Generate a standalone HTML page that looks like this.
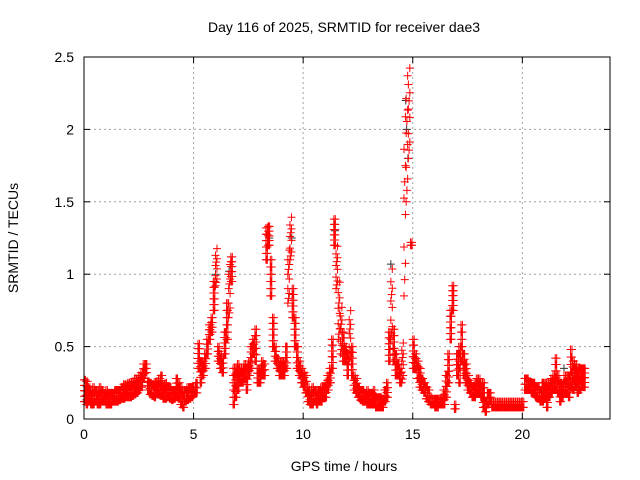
<!DOCTYPE html>
<html><head><meta charset="utf-8"><style>
body{margin:0;background:#fff}
svg{display:block;font-family:"Liberation Sans",sans-serif}
</style></head><body>
<svg width="640" height="480">
<rect width="640" height="480" fill="#fff"/>
<g id="grid"></g>
<g id="marks"></g>
<g id="axes"></g>
<text x="344" y="32" text-anchor="middle" font-size="14">Day 116 of 2025, SRMTID for receiver dae3</text>
<text x="344" y="471" text-anchor="middle" font-size="14">GPS time / hours</text>
<text transform="translate(18,238) rotate(-90)" text-anchor="middle" font-size="14">SRMTID / TECUs</text>
</svg>
<script>
const xTicks=[0,5,10,15,20];
const yTicks=[0,0.5,1,1.5,2,2.5];
const yTickLabels=["0","0.5","1","1.5","2","2.5"];
const startHour=0, stepHour=0.1;
const lo=[.12,.1,.12,.1,.1,.12,.1,.1,.12,.12,
.1,.1,.1,.12,.12,.12,.13,.14,.14,.15,
.15,.15,.16,.17,.18,.2,.22,.28,.32,.2,
.17,.16,.15,.17,.17,.16,.14,.14,.15,.14,
.13,.14,.15,.14,.1,.08,.12,.13,.14,.15,
.18,.18,.35,.25,.3,.35,.45,.55,.6,.75,
.92,.4,.35,.32,.45,.55,.7,.95,.1,.15,
.2,.25,.25,.28,.2,.3,.35,.45,.4,.25,
.25,.3,.3,1.1,1.2,.85,.5,.4,.35,.3,
.3,.3,.35,.8,1.1,.7,.5,.35,.3,.25,
.22,.18,.12,.1,.1,.12,.1,.12,.12,.15,
.15,.2,.25,.35,1.2,.9,.55,.45,.4,.4,
.3,.4,.3,.2,.18,.15,.13,.12,.12,.1,
.1,.1,.1,.08,.08,.08,.08,.12,.15,.4,
.55,.4,.3,.3,.25,.25,.85,1.5,1.8,1.2,
.35,.35,.28,.22,.2,.18,.14,.12,.1,.1,
.08,.08,.1,.1,.1,.15,.25,.55,.75,.07,
.3,.25,.4,.3,.25,.2,.18,.15,.15,.18,
.18,.15,.08,.05,.1,.12,.08,.08,.08,.08,
.08,.08,.08,.08,.08,.08,.08,.08,.08,.08,
.08,.2,.2,.2,.18,.18,.15,.14,.12,.12,
.15,.08,.15,.18,.2,.2,.18,.12,.15,.18,
.18,.15,.22,.2,.22,.18,.2,.22,.22];
const hi=[.27,.26,.22,.2,.22,.2,.2,.22,.2,.18,
.2,.18,.18,.18,.2,.2,.2,.22,.24,.24,
.25,.25,.26,.28,.28,.3,.32,.38,.38,.26,
.25,.24,.25,.26,.28,.3,.24,.25,.22,.22,
.2,.2,.28,.25,.22,.2,.2,.22,.22,.22,
.22,.25,.52,.4,.4,.45,.55,.65,.7,.95,
1.2,.5,.45,.42,.6,.8,1.1,1.12,.35,.35,
.38,.35,.35,.38,.35,.4,.5,.55,.62,.35,
.35,.4,.38,1.32,1.33,1.1,.7,.5,.42,.4,
.4,.4,.5,1.2,1.42,.9,.7,.5,.4,.35,
.32,.3,.22,.2,.22,.2,.2,.2,.22,.22,
.25,.3,.35,.55,1.38,1.22,.98,.8,.6,.5,
.45,.78,.5,.3,.28,.22,.2,.2,.18,.2,
.18,.18,.2,.15,.15,.15,.14,.2,.25,.6,
1.08,.62,.45,.38,.35,.55,2.2,2.45,2.48,1.22,
.55,.45,.4,.35,.28,.25,.22,.2,.15,.14,
.14,.14,.14,.15,.2,.3,.45,.75,.92,.1,
.45,.5,.65,.45,.38,.3,.25,.22,.25,.28,
.28,.25,.25,.12,.18,.18,.12,.12,.12,.12,
.12,.12,.12,.12,.12,.12,.12,.12,.12,.12,
.12,.28,.28,.26,.25,.25,.22,.22,.2,.25,
.25,.25,.25,.28,.3,.42,.3,.25,.25,.3,
.3,.3,.48,.4,.38,.35,.35,.35,.35];
const blackT=[6.0,6.62,8.45,9.48,11.45,14.0,14.68,14.78,14.72,17.35,21.9];
const blackV=[1.0,1.02,1.25,1.25,1.3,1.07,2.2,1.8,2.0,0.45,0.35];

const L=84,R=610,T=57,B=419;
const xs=h=>L+h/24*(R-L), ys=v=>B-v/2.5*(B-T);
const NS="http://www.w3.org/2000/svg";
function mk(tag,attrs,parent){const e=document.createElementNS(NS,tag);for(const k in attrs)e.setAttribute(k,attrs[k]);parent.appendChild(e);return e;}
const grid=document.getElementById('grid'),axes=document.getElementById('axes'),marks=document.getElementById('marks');
xTicks.forEach((t,i)=>{
  if(t>0){const g=mk('line',{x1:xs(t),x2:xs(t),y1:T,y2:B,stroke:'#a0a0a0','stroke-dasharray':'2,3'},grid);
  
  }
  mk('line',{x1:xs(t),x2:xs(t),y1:B,y2:B-6,stroke:'#000'},axes);
  mk('line',{x1:xs(t),x2:xs(t),y1:T,y2:T+6,stroke:'#000'},axes);
  const tx=mk('text',{x:xs(t),y:B+20,'text-anchor':'middle','font-size':14},axes);tx.textContent=t;
  
  
});
yTicks.forEach((t,i)=>{
  if(t>0&&t<2.5){const g=mk('line',{x1:L,x2:R,y1:ys(t),y2:ys(t),stroke:'#a0a0a0','stroke-dasharray':'2,3'},grid);
  
  }
  mk('line',{x1:L,x2:L+6,y1:ys(t),y2:ys(t),stroke:'#000'},axes);
  mk('line',{x1:R,x2:R-6,y1:ys(t),y2:ys(t),stroke:'#000'},axes);
  const tx=mk('text',{x:L-10,y:ys(t)+5,'text-anchor':'end','font-size':14},axes);tx.textContent=yTickLabels[i];
  
  
});
mk('rect',{x:L,y:T,width:R-L,height:B-T,fill:'none',stroke:'#000'},axes);
function plus(x,y,c){const p=mk('path',{d:`M${x-4},${y}h8M${x},${y-4}v8`,stroke:c,'stroke-width':1,fill:'none'},marks);
  
  }
blackT.forEach((t,i)=>plus(xs(t),ys(blackV[i]),'#333'));
lo.forEach((l,i)=>{
  const h=hi[i];
  const y0=ys(l),y1=ys(h);
  const tall=(y0-y1)>40;
  for(let k=0;k<3;k++){
    const t=startHour+i*stepHour+k*stepHour/3;
    const n=Math.max(1,Math.min(tall?3:5,Math.round((y0-y1)/5)));
    for(let j=0;j<=n;j++){
      if(k===1&&j%2===1)continue;
      const f=(j+(tall?k/3:0))/(n+(tall?1:0));
      plus(xs(t),y0+(y1-y0)*(tall?Math.min(1,f):j/n),'#ff0000');
    }
  }
});
</script>
</body></html>
